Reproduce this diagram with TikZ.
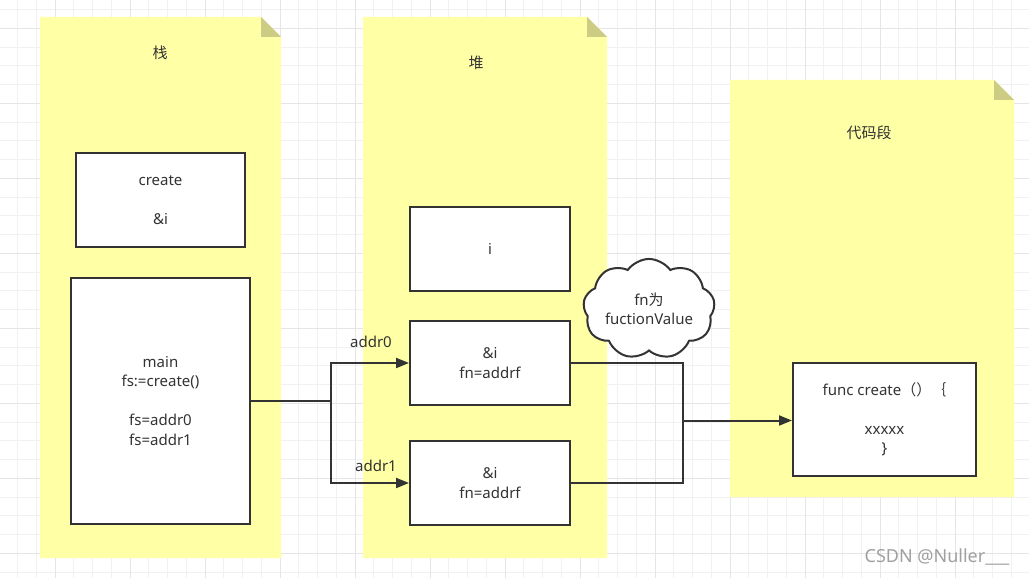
\documentclass[tikz,border=0pt]{standalone}
\usepackage{fontspec}
\setmainfont{Noto Sans}
\newfontfamily\cjk{Noto Sans CJK SC}
\usetikzlibrary{shapes.symbols,arrows.meta}
\definecolor{notefill}{RGB}{255,255,166}
\definecolor{notefold}{RGB}{204,204,133}
\definecolor{ink}{RGB}{51,51,51}
\definecolor{gridminor}{RGB}{241,241,241}
\definecolor{gridmajor}{RGB}{229,229,229}
\definecolor{wm}{RGB}{160,160,160}
\begin{document}
\begin{tikzpicture}[x=1pt,y=-1pt,
  every node/.style={font=\fontsize{15}{19.5}\selectfont, text=ink},
  box/.style={draw=ink, line width=2pt, fill=white, align=center, inner sep=0pt},
  wire/.style={draw=ink, line width=2pt},
  arrowline/.style={wire, -{Triangle[length=13pt,width=10pt]}},
  lbl/.style={inner sep=0pt}]
\useasboundingbox (0,0) rectangle (1029,578);
\fill[white] (0,0) rectangle (1029,578);
% grid
\foreach \i in {0,...,54} \draw[gridminor, line width=1pt] ({17.5+18.75*\i},0) -- ({17.5+18.75*\i},578);
\foreach \j in {0,...,30} \draw[gridminor, line width=1pt] (0,{9.55+18.75*\j}) -- (1029,{9.55+18.75*\j});
\foreach \i in {0,...,13} \draw[gridmajor, line width=1pt] ({55+75*\i},0) -- ({55+75*\i},578);
\foreach \j in {0,...,7} \draw[gridmajor, line width=1pt] (0,{28.3+75*\j}) -- (1029,{28.3+75*\j});
% notes
\newcommand{\notebox}[4]{%
  \fill[notefill] (#1,#2) -- ({#3-20},#2) -- (#3,{#2+20}) -- (#3,#4) -- (#1,#4) -- cycle;
  \fill[notefold] ({#3-20},#2) -- ({#3-20},{#2+20}) -- (#3,{#2+20}) -- cycle;}
\notebox{40}{17}{281}{558}
\notebox{363}{17}{607}{558}
\notebox{730}{80}{1014}{497}
\node[lbl] (tstack) at (160,53) {\cjk 栈};
\node[lbl] (theap) at (476,63) {\cjk 堆};
\node[lbl] (tcode) at (869,133) {\cjk 代码段};
% boxes
\node[box, minimum width=169pt, minimum height=94pt] (create) at (160.5,200) {create\\[19.5pt]\&i};
\node[box, minimum width=179pt, minimum height=246pt] (main) at (160.5,401) {main\\fs:=create()\\[19.5pt]fs=addr0\\fs=addr1};
\node[box, minimum width=160pt, minimum height=84pt] (ibox) at (490,249) {i};
\node[box, minimum width=160pt, minimum height=84pt] (b1) at (490,363) {\&i\\fn=addrf};
\node[box, minimum width=160pt, minimum height=84pt] (b2) at (490,483) {\&i\\fn=addrf};
\node[box, minimum width=183pt, minimum height=113pt] (func) at (884.5,419.5) {func create{\cjk（）｛}\\[19.5pt]xxxxx\\\}};
% cloud
\node[cloud, draw=ink, line width=2pt, fill=white, cloud puffs=9, cloud puff arc=110, aspect=1.5, minimum width=128pt, minimum height=90pt, inner sep=0pt, align=center] (cl) at (649,309) {fn{\cjk 为}\\fuctionValue};
% connectors
\coordinate (j1) at (330.5,401);
\coordinate (j2) at (682.5,420.5);
\draw[wire] (main.east |- j1) -- (j1);
\draw[arrowline] (j1) |- (b1.west);
\draw[arrowline] (j1) |- (b2.west);
\draw[wire] (b1.east) -| (j2) |- (b2.east);
\draw[arrowline] (j2) -- (j2 -| func.west);
\node[lbl] (l0) at (371,342) {addr0};
\node[lbl] (l1) at (376,466) {addr1};
% watermark
\node[lbl, text=wm, font=\fontsize{18}{22}\selectfont] (wmk) at (937,557) {CSDN @Nuller\_\_\_};
\end{tikzpicture}
\end{document}
